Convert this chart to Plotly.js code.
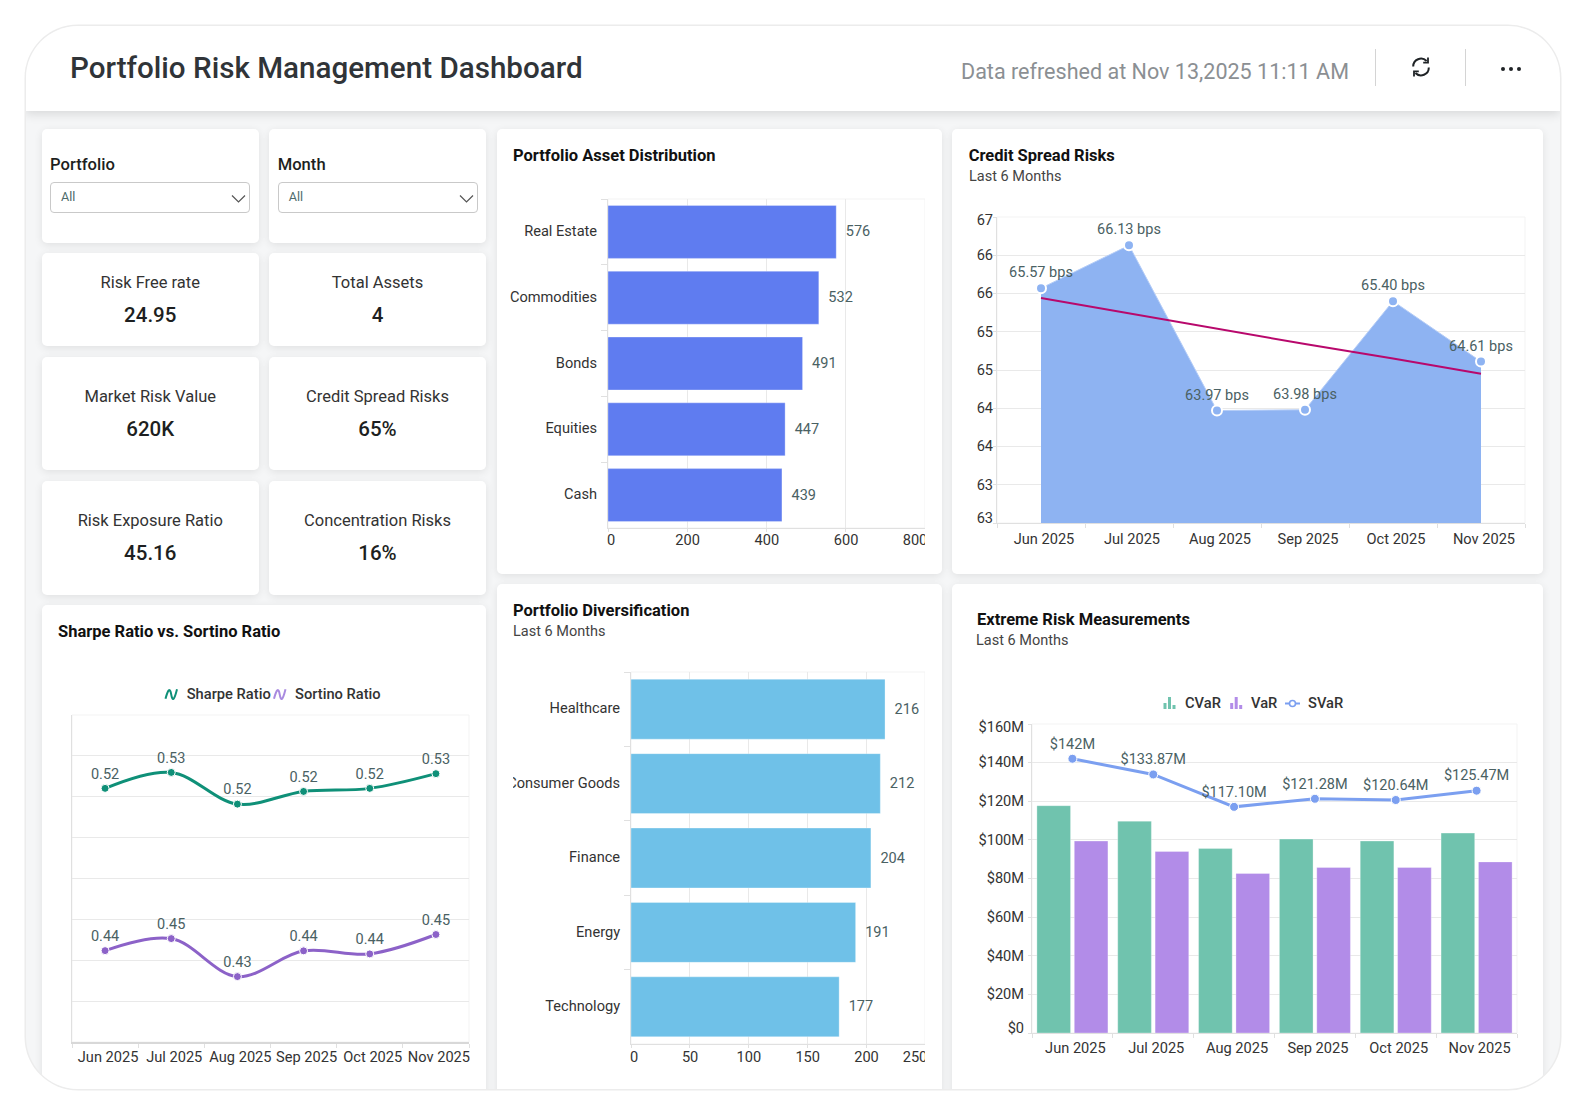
<!DOCTYPE html>
<html>
<head>
<meta charset="utf-8">
<title>Portfolio Risk Management Dashboard</title>
<script src="https://cdn.plot.ly/plotly-3.0.1.min.js"></script>
<style>
html,body{margin:0;padding:0;background:#fff;width:1586px;height:1112px;overflow:hidden;font-family:Roboto,sans-serif;}
#frame{position:absolute;left:25.5px;top:25.5px;width:1534.5px;height:1063.5px;border-radius:52px;overflow:hidden;background:#f5f6f7;box-shadow:0 0 0 1.5px #ececec;}
#stage{position:absolute;left:-25.5px;top:-25.5px;width:1586px;height:1112px;}
#header{position:absolute;left:25px;top:25px;width:1535px;height:86px;background:#fff;box-shadow:0 3px 10px rgba(0,0,0,.12);}
.abs{position:absolute;}
.card{position:absolute;background:#fff;border-radius:5px;box-shadow:0 2px 8px rgba(0,0,0,.09);}
.txt{position:absolute;white-space:nowrap;line-height:1;}
.c{transform:translate(-50%,-50%);}
.l{transform:translateY(-50%);}
.select{position:absolute;width:200px;height:30.5px;border:1px solid #c9c9c9;border-radius:4px;box-sizing:border-box;background:#fff;}
.chart{position:absolute;overflow:hidden;}
</style>
</head>
<body>
<div id="frame"><div id="stage"><div id="header"></div></div></div>
<script>
// ---------- data ----------
const months = ['Jun 2025','Jul 2025','Aug 2025','Sep 2025','Oct 2025','Nov 2025'];

const assetCategories = ['Real Estate','Commodities','Bonds','Equities','Cash'];
const assetValues = [576,532,491,447,439];
const assetTicks = [0,200,400,600,800];

const diversificationCategories = ['Healthcare','Consumer Goods','Finance','Energy','Technology'];
const diversificationValues = [216,212,204,191,177];
const diversificationTicks = [0,50,100,150,200,250];

const creditValues = [65.57,66.13,63.97,63.98,65.40,64.61];
const creditTrend = [65.44,65.24,65.04,64.84,64.65,64.45];
const creditTicks = [62.5,63,63.5,64,64.5,65,65.5,66,66.5];

const sharpeValues = [0.5241,0.5319,0.5164,0.5226,0.5241,0.5313];
const sortinoValues = [0.4447,0.4506,0.4320,0.4446,0.4431,0.4526];
const ratioGrid = [0.40,0.42,0.44,0.46,0.48,0.50,0.52,0.54,0.56];

const cvarValues = [117.7,109.7,95.5,100.4,99.4,103.5];
const varValues = [99.4,94.0,82.6,85.7,85.7,88.6];
const svarValues = [142,133.87,117.10,121.28,120.64,125.47];
const riskTicks = [0,20,40,60,80,100,120,140,160];

const kpiLabels = ['Risk Free rate','Total Assets','Market Risk Value','Credit Spread Risks','Risk Exposure Ratio','Concentration Risks'];
const kpiValues = ['24.95','4','620K','65%','45.16','16%'];
const filterLabels = ['Portfolio','Month'];
const filterValues = ['All','All'];

const dashboardTitle = 'Portfolio Risk Management Dashboard';
const refreshedText = 'Data refreshed at Nov 13,2025 11:11 AM';

// ---------- page furniture ----------
const stage = document.getElementById('stage');
function el(cls, css, text){
  const d = document.createElement('div');
  d.className = cls; d.style.cssText = css;
  if(text !== undefined) d.textContent = text;
  stage.appendChild(d); return d;
}
el('txt l', `left:70px;top:69px;font-size:29.6px;font-weight:500;color:#303438;`, dashboardTitle);
el('txt l', `left:961px;top:72px;font-size:21.55px;color:#8b8f93;`, refreshedText);
el('abs', 'left:1375px;top:49px;width:1px;height:37px;background:#d4d4d4;');
el('abs', 'left:1465px;top:49px;width:1px;height:37px;background:#d4d4d4;');
el('abs', 'left:1410px;top:56px;width:22px;height:22px;').innerHTML =
 '<svg width="22" height="22" viewBox="0 0 22 22" fill="none" stroke="#1f2326" stroke-width="2"><path d="M3.2 10.5A7.8 7.8 0 0 1 16.6 5"/><path d="M18.8 11.5A7.8 7.8 0 0 1 5.4 17"/><path d="M18 1.6V6.6H13.2" stroke-width="1.8"/><path d="M4 20.4V15.4H8.8" stroke-width="1.8"/></svg>';
[1503,1511,1519].forEach(x => el('abs', `left:${x-2.2}px;top:66.6px;width:4.6px;height:4.6px;border-radius:50%;background:#1f2326;`));

const leftCols = [[41.5,217.5],[269,217]];
const kpiRows = [[253,93,283,315],[357,113,397,429],[481,114,521,553]];
leftCols.forEach((col,i)=>{
  el('card', `left:${col[0]}px;top:129px;width:${col[1]}px;height:114px;`);
  const x = i===0 ? 50 : 277.7;
  el('txt l', `left:${x}px;top:165px;font-size:16.6px;font-weight:500;color:#1d1f21;`, filterLabels[i]);
  el('select', `left:${x}px;top:182px;`);
  el('txt l', `left:${x+11}px;top:197px;font-size:12.6px;color:#4d6b6b;`, filterValues[i]);
  el('abs', `left:${x+181}px;top:188.5px;width:15px;height:10px;`).innerHTML =
    '<svg width="15" height="10"><path d="M1 1.5L7.5 8L14 1.5" fill="none" stroke="#555" stroke-width="1.2"/></svg>';
});
kpiRows.forEach((r,ri)=>{
  leftCols.forEach((col,ci)=>{
    el('card', `left:${col[0]}px;top:${r[0]}px;width:${col[1]}px;height:${r[1]}px;`);
    const cx = col[0]+col[1]/2;
    el('txt c', `left:${cx}px;top:${r[2]}px;font-size:16.5px;color:#333;`, kpiLabels[ri*2+ci]);
    el('txt c', `left:${cx}px;top:${r[3]}px;font-size:20.5px;font-weight:500;color:#1d1f21;`, kpiValues[ri*2+ci]);
  });
});
el('card', 'left:41.5px;top:605px;width:444.5px;height:520px;');
el('card', 'left:497px;top:129px;width:445px;height:445px;');
el('card', 'left:951.5px;top:129px;width:591px;height:445px;');
el('card', 'left:497px;top:584px;width:445px;height:540px;');
el('card', 'left:951.5px;top:584px;width:591px;height:540px;');

// ---------- chart helpers ----------
const FONT = 'Roboto, sans-serif';
const TICK = {family:FONT,size:14.6,color:'#333'};
const LABEL = {family:FONT,size:14.5,color:'#4a6163'};
const GRID = '#e9e9e9', EDGE = '#f3f3f3', AXIS = '#e0e0e0';

function chartDiv(box){
  const d = document.createElement('div');
  d.className = 'chart';
  d.style.cssText = `left:${box.x}px;top:${box.y}px;width:${box.w}px;height:${box.h}px;`;
  stage.appendChild(d); return d;
}
function titled(box, title, tx, ty, sub, sy){
  return {
    title:{text:title,x:tx/box.w,xref:'container',xanchor:'left',y:1-ty/box.h,yref:'container',yanchor:'middle',
           font:{family:FONT,size:16.5,weight:700,color:'#111'}},
    annotations: sub ? [{text:sub,xref:'paper',yref:'paper',x:0,y:1,xanchor:'left',yanchor:'middle',showarrow:false,
        xshift:tx-box.l-2.5, yshift:box.t-sy, font:{family:FONT,size:14.5,color:'#444'}}] : []
  };
}
function base(box, t){
  return Object.assign({
    width:box.w,height:box.h,
    margin:{l:box.l,r:box.r,t:box.t,b:box.b,pad:0,autoexpand:false},
    paper_bgcolor:'rgba(0,0,0,0)',plot_bgcolor:'rgba(0,0,0,0)',
    showlegend:false,hovermode:false,font:{family:FONT},
    shapes:[{type:'rect',xref:'paper',yref:'paper',x0:0,x1:1,y0:0,y1:1,line:{color:EDGE,width:1},layer:'below'}]
  }, t);
}
// Labels sit slightly inside the plot at both ends of a value axis, so the
// label positions are separated from the true tick / grid positions.
function labelPositions(ticks, firstPx, lastPx, pxPerUnit){
  const eps = 0.3/pxPerUnit;
  return ticks.map((v,i)=> v + (i===0 ? firstPx/pxPerUnit : i===ticks.length-1 ? lastPx/pxPerUnit : eps));
}
function valueAxis(ticks, text, firstPx, lastPx, pxPerUnit, extra){
  return Object.assign({
    range:[ticks[0],ticks[ticks.length-1]],
    tickmode:'array',tickvals:labelPositions(ticks,firstPx,lastPx,pxPerUnit),ticktext:text,
    ticks:'',showgrid:false,zeroline:false,showline:true,linecolor:AXIS,linewidth:1,
    ticklabeloverflow:'allow',tickfont:TICK,
    minor:{tickmode:'array',tickvals:ticks,showgrid:true,gridcolor:GRID,gridwidth:1,ticks:'outside',ticklen:3,tickcolor:AXIS,tickwidth:1}
  }, extra||{});
}
function categoryY(standoff){
  return {type:'category',autorange:'reversed',ticks:'outside',tickson:'boundaries',ticklen:6,tickcolor:AXIS,
          showgrid:false,zeroline:false,showline:true,linecolor:AXIS,tickfont:TICK,ticklabelstandoff:standoff,ticklabelshift:1};
}
function categoryX(shift, standoff){
  return {type:'category',range:[-0.5,5.5],ticks:'outside',tickson:'boundaries',ticklen:4,tickcolor:AXIS,tickangle:0,
          showgrid:false,zeroline:false,showline:true,linecolor:AXIS,linewidth:1,tickfont:TICK,ticklabelshift:shift,ticklabelstandoff:standoff};
}
const cfg = {displayModeBar:false,responsive:false};

function hbar(box, title, tx, sub, sy, cats, vals, ticks, color, ty, labelStandoff){
  const w = box.w-box.l-box.r, perUnit = w/ticks[ticks.length-1];
  const layout = base(box, titled(box,title,tx,ty,sub,sy));
  layout.bargap = 0.195;
  layout.xaxis = valueAxis(ticks, ticks.map(String), 3, -10, perUnit, {ticklabelstandoff:labelStandoff});
  layout.yaxis = categoryY(7);
  return Plotly.newPlot(chartDiv(box), [{
    type:'bar',orientation:'h',y:cats,x:vals,name:title,
    marker:{color:color,line:{color:'rgba(255,255,255,.3)',width:1}},
    text:vals.map(v=>'\u00a0\u2009'+v),textposition:'outside',cliponaxis:false,
    textfont:LABEL,constraintext:'none'
  }], layout, cfg);
}

// ---------- legend rebuilt to the tighter pixel layout ----------
const ICONS = {
  bars:'<path d="M0.5 6V0h3v6zM5 6V-6h3V6zM9.5 6V2h3v4z" fill="COLOR"/>',
  squiggle:'<path d="M0.5 4.5C3 -5 5 -7 6.2 0S9 7 12 -5" fill="none" stroke="COLOR" stroke-width="2"/>',
  lineDot:'<path d="M0 0.5H15" stroke="COLOR" stroke-width="2"/><circle cx="7.5" cy="0.5" r="3" fill="#fff" stroke="COLOR" stroke-width="1.6"/>'
};
function placeLegend(gd, items){
  const root = gd.querySelector('.legend');
  if(!root) return;
  const m = /translate\(([-\d.]+)[ ,]+([-\d.]+)\)/.exec(root.getAttribute('transform'));
  const ox = +m[1], oy = +m[2];
  root.querySelectorAll('[clip-path]').forEach(n=>n.removeAttribute('clip-path'));
  root.removeAttribute('clip-path');
  root.querySelectorAll('.traces').forEach((t,i)=>{
    const it = items[i];
    t.setAttribute('transform',`translate(${it.icon-ox},${it.y-oy})`);
    t.querySelectorAll('.legendfill,.legendlines,.legendsymbols').forEach(n=>{n.innerHTML='';});
    const icon = document.createElementNS('http://www.w3.org/2000/svg','g');
    icon.innerHTML = ICONS[it.kind].replace(/COLOR/g,it.color);
    t.appendChild(icon);
    const tx = t.querySelector('text.legendtext');
    tx.setAttribute('x', it.text-it.icon);
    tx.setAttribute('y', 5);
    tx.style.textAnchor = 'start';
  });
}
const LEGEND = {orientation:'h',x:0,y:1,xanchor:'left',yanchor:'bottom',bgcolor:'rgba(0,0,0,0)',
                font:{family:FONT,size:14.7,weight:500,color:'#333'}};

// ---------- charts ----------
const boxA = {x:505,y:129,w:420,h:445,l:103.3,r:0,t:70,b:46.3};
hbar(boxA,'Portfolio Asset Distribution',8,null,0,assetCategories,assetValues,assetTicks,'#5f7cf0',26.3,-2);

const boxB = {x:513,y:584,w:412,h:505,l:117.7,r:0,t:88,b:45};
hbar(boxB,'Portfolio Diversification',0,'Last 6 Months',47,diversificationCategories,diversificationValues,diversificationTicks,'#6fc1e8',26.7,-1);

const boxC = {x:950,y:129,w:592,h:445,l:46.6,r:17.2,t:87.7,b:50.7};
(function(){
  const perUnit = (boxC.h-boxC.t-boxC.b)/4;
  const layout = base(boxC, titled(boxC,'Credit Spread Risks',18.7,26.3,'Last 6 Months',46.7));
  layout.xaxis = categoryX(3,2);
  layout.yaxis = valueAxis(creditTicks, creditTicks.map(v=>String(Math.round(v))), 5, -3.3, perUnit, {ticklabelstandoff:4.5});
  Plotly.newPlot(chartDiv(boxC), [
    {type:'scatter',mode:'lines+markers+text',x:months,y:creditValues,name:'Credit Spread',fill:'tozeroy',fillcolor:'#8eb3f2',
     line:{color:'#b5cdf7',width:1},marker:{color:'#8eb3f2',size:10,line:{color:'#fff',width:2}},
     text:creditValues.map(v=>v.toFixed(2)+' bps'),textposition:'top center',textfont:LABEL,cliponaxis:false},
    {type:'scatter',mode:'lines',x:months,y:creditTrend,name:'Trend',line:{color:'#b8086c',width:2}}
  ], layout, cfg);
})();

const boxE = {x:41,y:605,w:445,h:484,l:31,r:16.7,t:110,b:47.3};
(function(){
  const layout = base(boxE, titled(boxE,'Sharpe Ratio vs. Sortino Ratio',17,26.7));
  layout.xaxis = Object.assign(categoryX(3,0),{linecolor:'#d8d8d8',linewidth:2});
  layout.yaxis = {range:[ratioGrid[0],ratioGrid[ratioGrid.length-1]],tickmode:'array',tickvals:ratioGrid,showticklabels:false,
                  showgrid:true,gridcolor:GRID,zeroline:false,showline:true,linecolor:AXIS,ticks:''};
  layout.showlegend = true; layout.legend = LEGEND;
  const colors = ['#0f9078','#8c62c8'];
  const tr = (name,vals,c)=>({type:'scatter',mode:'lines+markers+text',x:months,y:vals,name:name,
     line:{color:c,width:3,shape:'spline',smoothing:1},marker:{color:c,size:8,line:{color:'#fff',width:1}},
     text:vals.map(v=>v.toFixed(2)),textposition:'top center',textfont:LABEL,cliponaxis:false});
  Plotly.newPlot(chartDiv(boxE),[tr('Sharpe Ratio',sharpeValues,colors[0]),tr('Sortino Ratio',sortinoValues,colors[1])],layout,cfg)
    .then(gd=>placeLegend(gd,[
      {kind:'squiggle',color:colors[0],icon:165-boxE.x,text:186.7-boxE.x,y:694.3-boxE.y},
      {kind:'squiggle',color:'#a98be0',icon:273.5-boxE.x,text:295-boxE.x,y:694.3-boxE.y}]));
})();

const boxD = {x:950,y:584,w:592,h:505,l:82.2,r:25.3,t:140,b:56.3};
(function(){
  const perUnit = (boxD.h-boxD.t-boxD.b)/160;
  const layout = base(boxD, titled(boxD,'Extreme Risk Measurements',27,35,'Last 6 Months',56));
  layout.xaxis = categoryX(3,1);
  layout.yaxis = valueAxis(riskTicks, riskTicks.map(v=>'$'+v+(v?'M':'')), 5.3, -3.3, perUnit, {ticklabelstandoff:4});
  layout.barmode = 'group'; layout.bargap = 0.075; layout.bargroupgap = 0.1;
  layout.showlegend = true; layout.legend = LEGEND;
  const colors = ['#70c3ae','#b28ce8','#7b9ff0'];
  Plotly.newPlot(chartDiv(boxD),[
    {type:'bar',x:months,y:cvarValues,name:'CVaR',marker:{color:colors[0],line:{color:'rgba(255,255,255,.3)',width:1}}},
    {type:'bar',x:months,y:varValues,name:'VaR',marker:{color:colors[1],line:{color:'rgba(255,255,255,.3)',width:1}}},
    {type:'scatter',mode:'lines+markers+text',x:months,y:svarValues,name:'SVaR',
     line:{color:colors[2],width:3},marker:{color:colors[2],size:9,line:{color:'#fff',width:1}},
     text:svarValues.map(v=>'$'+(Number.isInteger(v)?v:v.toFixed(2))+'M'),textposition:'top center',textfont:LABEL,cliponaxis:false}
  ],layout,cfg).then(gd=>placeLegend(gd,[
      {kind:'bars',color:colors[0],icon:1163-boxD.x,text:1185-boxD.x,y:703-boxD.y},
      {kind:'bars',color:colors[1],icon:1229.7-boxD.x,text:1251-boxD.x,y:703-boxD.y},
      {kind:'lineDot',color:colors[2],icon:1285-boxD.x,text:1308-boxD.x,y:703-boxD.y}]));
})();
</script>
</body>
</html>
